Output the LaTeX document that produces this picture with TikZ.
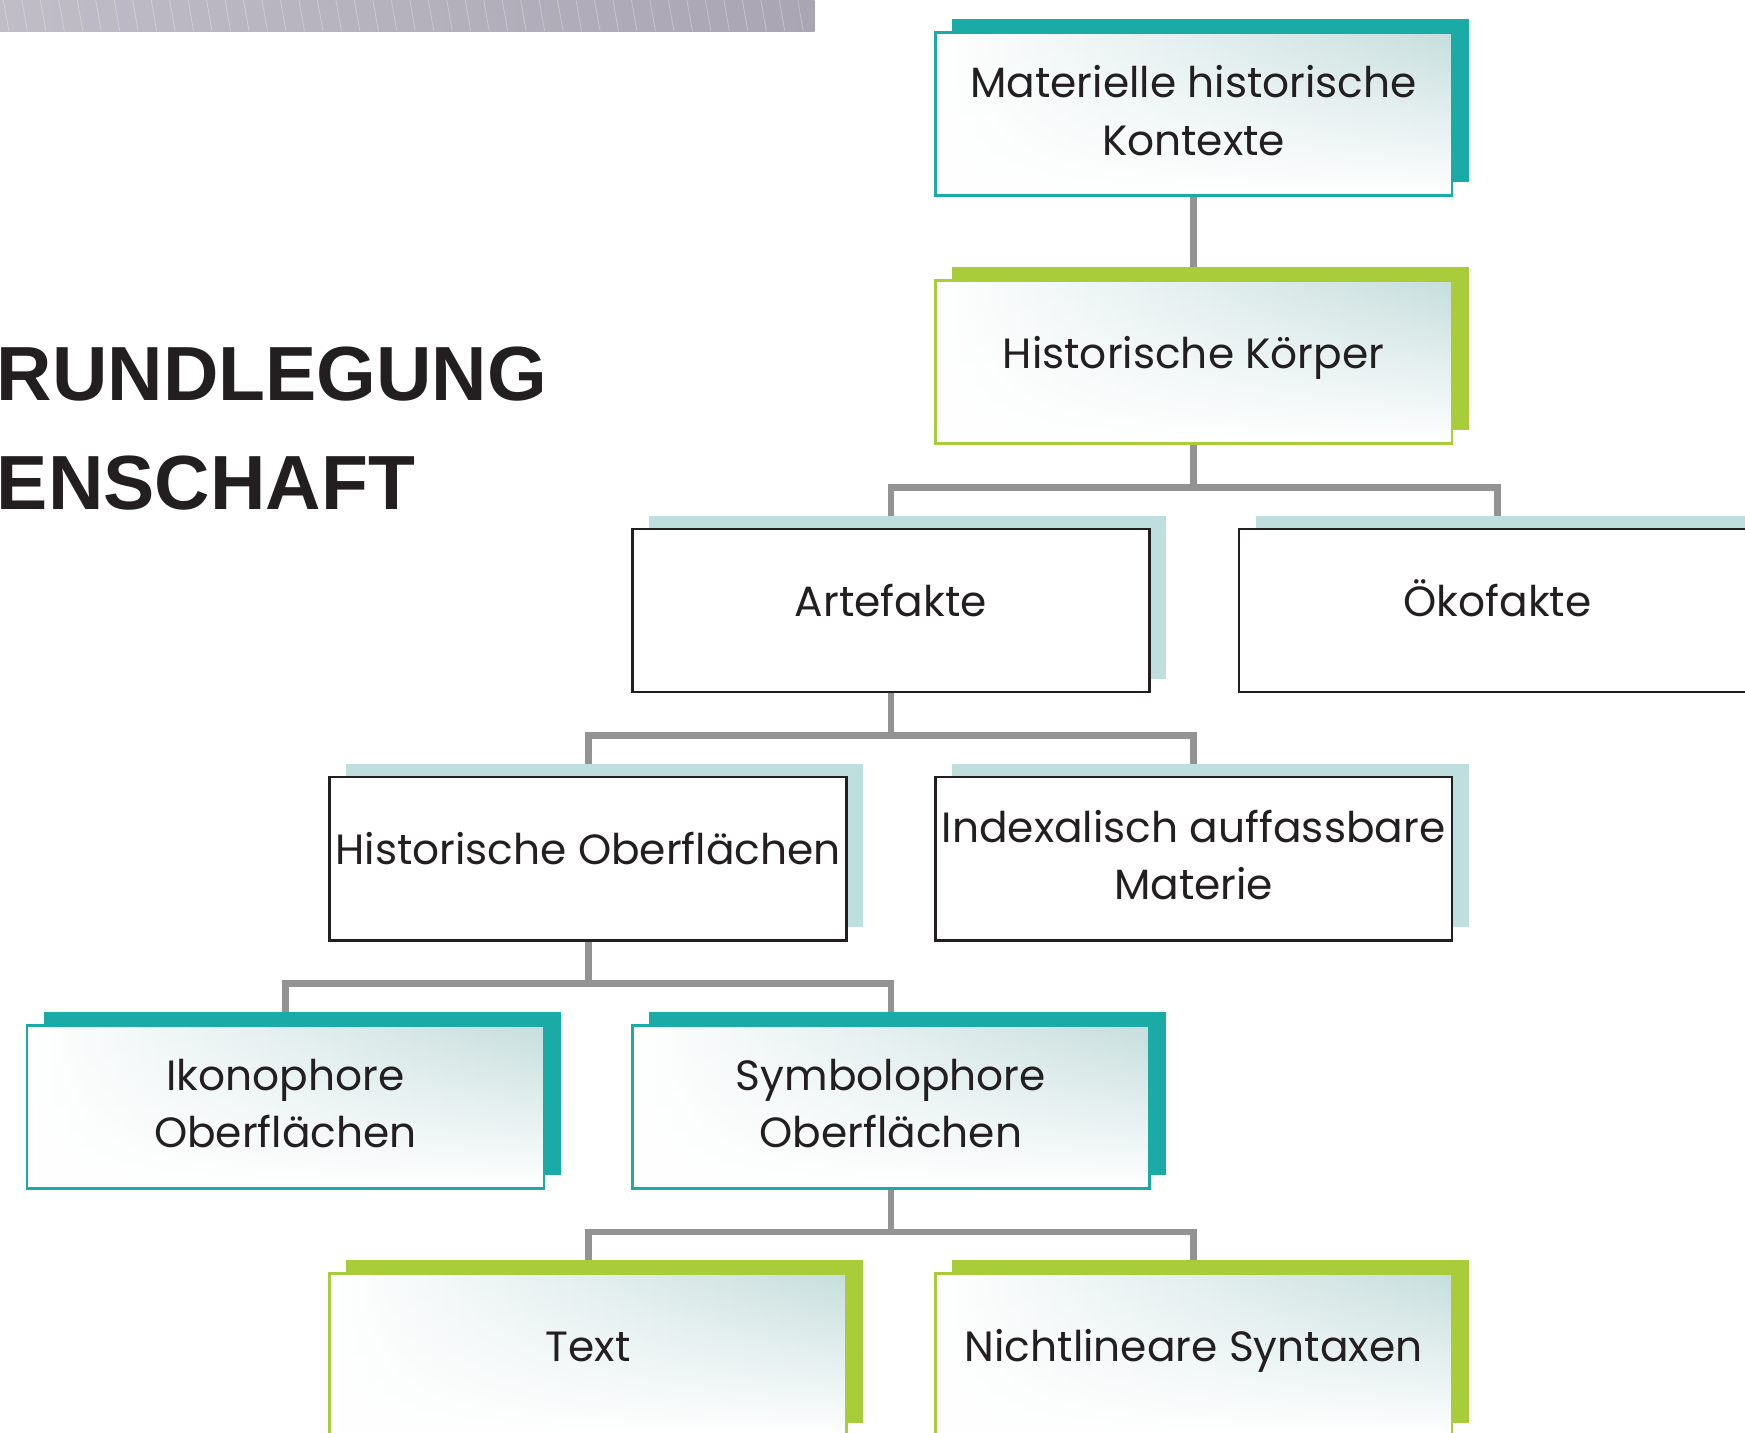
\documentclass[tikz,border=0pt]{standalone}
\usepackage{fontspec}
\setmainfont{Poppins}
\newfontfamily\titlefont{Liberation Sans}
\usetikzlibrary{shadows,backgrounds,fadings}
\definecolor{ink}{HTML}{231F20}
\definecolor{tealc}{HTML}{1AABA6}
\definecolor{greenc}{HTML}{A9CD3A}
\definecolor{paleshadow}{HTML}{BFDFDE}
\definecolor{tint}{HTML}{C6DEDD}
\definecolor{connc}{HTML}{939393}
\definecolor{bannerL}{HTML}{C0BDC7}
\definecolor{bannerR}{HTML}{A9A5B3}
\newcommand{\boxfont}{\fontsize{38}{51.5}\selectfont}
\begin{document}
\begin{tikzpicture}[x=1pt,y=-1pt,
  box/.style={rectangle, minimum width=464.5pt, minimum height=146.5pt, inner sep=0pt,
    align=center, line width=2.5pt, font=\boxfont, text=ink},
  oneline/.style={text height=30pt, text depth=19pt},
  twolines/.style={text height=80pt, text depth=6.4pt},
  tintfill/.style={preaction={left color=white, right color=tint},
    preaction={fill=white, path fading=north}},
  tealbox/.style={box,
    general shadow={fill=tealc, shadow xshift=15pt, shadow yshift=12pt},
    tintfill, draw=tealc},
  greenbox/.style={box,
    general shadow={fill=greenc, shadow xshift=15pt, shadow yshift=12pt},
    tintfill, draw=greenc},
  plainbox/.style={box,
    general shadow={fill=paleshadow, shadow xshift=15pt, shadow yshift=12pt},
    draw=ink, fill=white},
  titletext/.style={inner sep=0pt, anchor=base west, text=ink,
    font=\titlefont\bfseries\fontsize{69}{69}\selectfont},
  conn/.style={draw=connc, line width=6pt}
]
\useasboundingbox (0,0) rectangle (1568,1287);
\clip (0,0) rectangle (1568,1287);
% banner
\shade[left color=bannerL, right color=bannerR] (0,0) rectangle (732,28);
\begin{scope}
  \clip (0,0) rectangle (732,28);
  \foreach \i in {0,...,44}
    \draw[white, opacity=0.3, line width=0.7pt] (\i*16.6+3,0) -- (\i*16.6+8,28);
\end{scope}
% title
\node[titletext] (t1) at (-3,360) {RUNDLEGUNG};
\node[titletext] (t2) at (-3,458) {ENSCHAFT};
% boxes
\node[tealbox, twolines] (mat) at (1072.5,102.5) {Materielle historische\\Kontexte};
\node[greenbox, oneline] (koer) at (1072.5,325.5) {Historische Körper};
\node[plainbox, oneline] (arte) at (800.5,548.5) {Artefakte};
\node[plainbox, oneline] (oeko) at (1345.5,548.5) {Ökofakte};
\node[plainbox, oneline] (hober) at (528.5,771.5) {Historische Oberflächen};
\node[plainbox, twolines] (index) at (1072.5,771.5) {Indexalisch auffassbare\\Materie};
\node[tealbox, twolines] (ikon) at (256.5,994.5) {Ikonophore\\Oberflächen};
\node[tealbox, twolines] (symb) at (800.5,994.5) {Symbolophore\\Oberflächen};
\node[greenbox, oneline] (txt) at (528.5,1217.5) {Text};
\node[greenbox, oneline] (nlin) at (1072.5,1217.5) {Nichtlineare Syntaxen};
% connectors
\begin{scope}[on background layer]
  \draw[conn] (mat.south) -- (koer.north);
  \draw[conn] (koer.south) -- ++(0,38) -| (arte.north);
  \draw[conn] (koer.south) -- ++(0,38) -| (oeko.north);
  \draw[conn] (arte.south) -- ++(0,38) -| (hober.north);
  \draw[conn] (arte.south) -- ++(0,38) -| (index.north);
  \draw[conn] (hober.south) -- ++(0,38) -| (ikon.north);
  \draw[conn] (hober.south) -- ++(0,38) -| (symb.north);
  \draw[conn] (symb.south) -- ++(0,38) -| (txt.north);
  \draw[conn] (symb.south) -- ++(0,38) -| (nlin.north);
\end{scope}
\end{tikzpicture}
\end{document}
